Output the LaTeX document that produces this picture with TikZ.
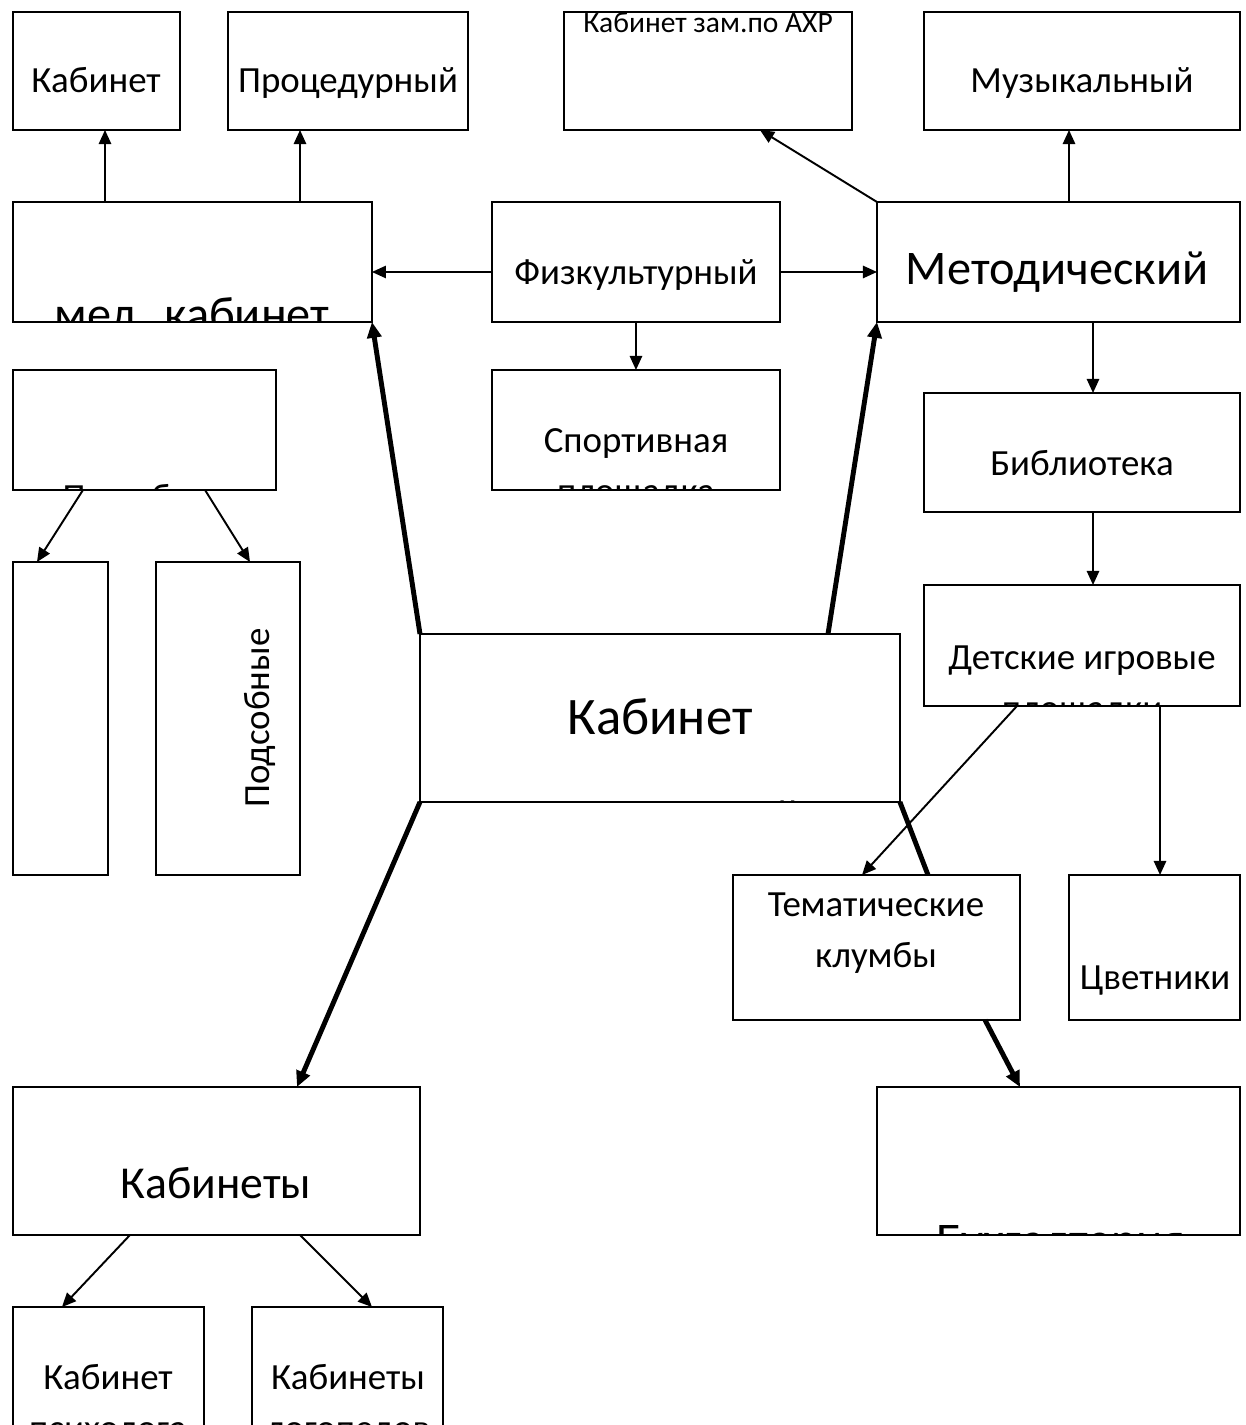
\documentclass[tikz,border=0pt]{standalone}
\usepackage{fontspec}
\setmainfont{Carlito}
\usetikzlibrary{arrows.meta,calc}
\newcommand{\roomfont}{\fontsize{21}{29}\selectfont}
\newcommand{\bigroomfont}{\fontsize{27.5}{34}\selectfont}
\newcommand{\hugeroomfont}{\fontsize{30}{36}\selectfont}
\newcommand{\tinyroomfont}{\fontsize{16.8}{20}\selectfont}

\begin{document}
\begin{tikzpicture}[x=0.02cm,y=-0.02cm]
\tikzstyle{room}=[draw, fill=white, line width=1.1pt, anchor=north west, inner sep=0pt, outer sep=0pt, minimum height=2.4cm]
\tikzstyle{txt}=[inner sep=0pt, align=center, font=\roomfont]
\tikzstyle{link}=[line width=1.1pt, -{Triangle[length=8pt,width=7pt]}]
\tikzstyle{main}=[line width=2.8pt, -{Triangle[length=9pt,width=8pt]}]
\clip (0,0) rectangle (1245,1425);

% top row
\draw node at (13,12) [room, minimum width=3.34cm, minimum height=2.36cm] (kab) {};
\draw node at (228,12) [room, minimum width=4.8cm, minimum height=2.36cm] (proc) {};
\draw node at (564,12) [room, minimum width=5.76cm, minimum height=2.36cm] (axr) {};
\draw node at (924,12) [room, minimum width=6.32cm, minimum height=2.36cm] (muz) {};
\draw node at (96,80) [txt] (kab-t) {Кабинет};
\draw node at (348,83) [txt] (proc-t) {Процедурный};
\draw node at (708,23) [txt, font=\tinyroomfont] (axr-t) {Кабинет зам.по АХР};
\draw node at (1082,83) [txt] (muz-t) {Музыкальный};

% second row
\draw node at (13,202) [room, minimum width=7.18cm] (med) {};
\draw node at (492,202) [room, minimum width=5.76cm] (fiz) {};
\draw node at (877,202) [room, minimum width=7.26cm] (met) {};
\begin{scope}
\clip (med.north west) rectangle (med.south east);
\draw node at (192,331) [txt, anchor=base, font=\bigroomfont] (med-t) {мед. кабинет};
\end{scope}
\draw node at (636,275) [txt] (fiz-t) {Физкультурный};
\draw node at (1057,272) [txt, font=\bigroomfont] (met-t) {Методический};

% third row
\draw node at (13,370) [room, minimum width=5.26cm] (pish) {};
\draw node at (492,370) [room, minimum width=5.76cm] (sport) {};
\draw node at (924,393) [room, minimum width=6.32cm, minimum height=2.38cm] (bib) {};
\begin{scope}
\clip (pish.north west) rectangle (pish.south east);
\draw node at (144,509) [txt, anchor=base] (pish-t) {Пищеблок};
\end{scope}
\begin{scope}
\clip (sport.north west) rectangle (sport.south east);
\draw node at (636,469) [txt] (sport-t) {Спортивная\\площадка};
\end{scope}
\draw node at (1082,463) [txt] (bib-t) {Библиотека};

% middle
\draw node at (13,562) [room, minimum width=1.9cm, minimum height=6.26cm] (klad) {};
\draw node at (156,562) [room, minimum width=2.88cm, minimum height=6.26cm] (pods) {};
\draw node at (260,718) [txt, rotate=90] (pods-t) {Подсобные};
\draw node at (420,634) [room, minimum width=9.6cm, minimum height=3.36cm] (zav) {};
\draw node at (924,585) [room, minimum width=6.32cm, minimum height=2.42cm] (det) {};
\begin{scope}
\clip (zav.north west) rectangle (zav.south east);
\draw node at (660,772) [txt, font=\hugeroomfont] (zav-t) {Кабинет\\[22pt]заведующей};
\end{scope}
\begin{scope}
\clip (det.north west) rectangle (det.south east);
\draw node at (1082,686) [txt] (det-t) {Детские игровые\\площадки};
\end{scope}

% lower right
\draw node at (733,875) [room, minimum width=5.74cm, minimum height=2.9cm] (klum) {};
\draw node at (1069,875) [room, minimum width=3.42cm, minimum height=2.9cm] (cvet) {};
\draw node at (877,1087) [room, minimum width=7.26cm, minimum height=2.96cm] (buh) {};
\draw node at (876,933) [txt] (klum-t) {Тематические\\клумбы};
\draw node at (1155,981) [txt] (cvet-t) {Цветники};
\begin{scope}
\clip (buh.north west) rectangle (buh.south east);
\draw node at (1061,1256) [txt, anchor=base, font=\bigroomfont] (buh-t) {Бухгалтерия};
\end{scope}

% lower left
\draw node at (13,1087) [room, minimum width=8.14cm, minimum height=2.96cm] (kabs) {};
\draw node at (13,1307) [room, minimum width=3.82cm, minimum height=2.9cm] (psih) {};
\draw node at (252,1307) [room, minimum width=3.82cm, minimum height=2.9cm] (log) {};
\draw node at (216,1183) [txt, font=\fontsize{26}{32}\selectfont] (kabs-t) {Кабинеты};
\draw node at (108,1403) [txt] (psih-t) {Кабинет\\психолога};
\draw node at (348,1405) [txt] (log-t) {Кабинеты\\логопедов};

% thin arrows
\draw [link] ($(med.north west)+(92,0)$) -- ($(kab.south west)+(92,0)$);
\draw [link] ($(med.north west)+(287,0)$) -- ($(proc.south west)+(72,0)$);
\draw [link] ($(fiz.west)+(0,10)$) -- ($(med.east)+(0,10)$);
\draw [link] ($(fiz.east)+(0,10)$) -- ($(met.west)+(0,10)$);
\draw [link] (fiz.south) -- (sport.north);
\draw [link] (met.north west) -- ($(axr.south west)+(196,0)$);
\draw [link] ($(met.north west)+(192,0)$) -- ($(muz.south west)+(145,0)$);
\draw [link] ($(met.south west)+(216,0)$) -- ($(bib.north west)+(169,0)$);
\draw [link] ($(bib.south west)+(169,0)$) -- ($(det.north west)+(169,0)$);
\draw [link] ($(det.south west)+(93,0)$) -- ($(klum.north west)+(129,0)$);
\draw [link] ($(det.south west)+(236,0)$) -- ($(cvet.north west)+(91,0)$);
\draw [link] ($(pish.south west)+(70,0)$) -- ($(klad.north west)+(24,0)$);
\draw [link] ($(pish.south west)+(192,0)$) -- ($(pods.north west)+(94,0)$);
\draw [link] ($(kabs.south west)+(117,0)$) -- ($(psih.north west)+(49,0)$);
\draw [link] ($(kabs.south west)+(287,0)$) -- ($(log.north west)+(120,0)$);

% thick arrows
\draw [main] (zav.north west) -- (med.south east);
\draw [main] ($(zav.north west)+(408,0)$) -- (met.south west);
\draw [main] (zav.south west) -- ($(kabs.north west)+(284,0)$);
\draw [line width=2.8pt] (zav.south east) -- ($(klum.north west)+(195,0)$);
\draw [main] ($(klum.south west)+(252,0)$) -- ($(buh.north west)+(143,0)$);
\end{tikzpicture}
\end{document}
